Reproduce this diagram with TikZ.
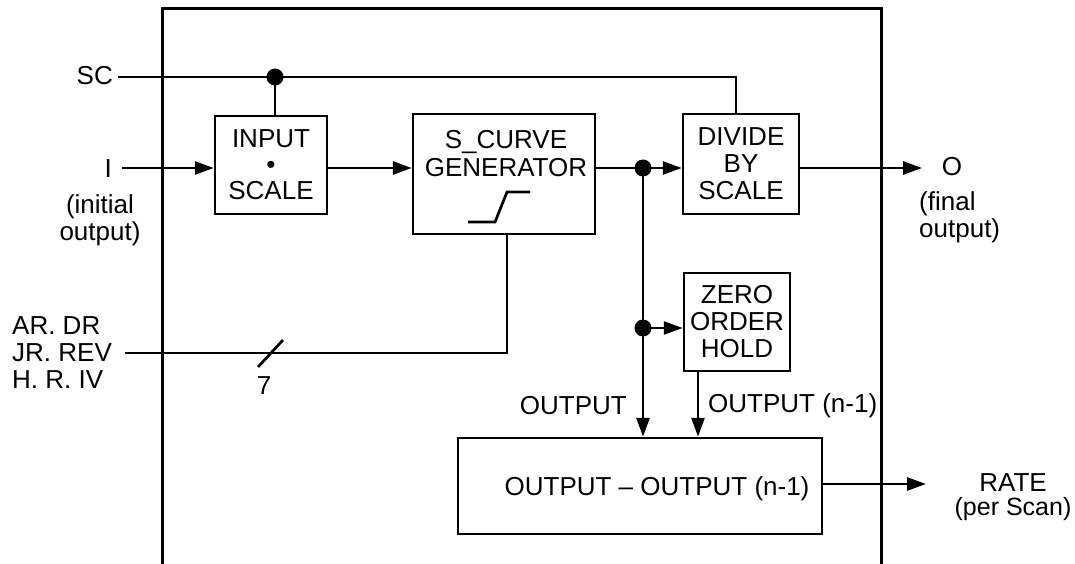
\documentclass[tikz,border=0pt]{standalone}
\usepackage{fontspec}
\setmainfont{Liberation Sans}
\usetikzlibrary{arrows.meta}
\tikzset{
  box/.style={draw, line width=2.5pt, inner sep=0pt, align=center},
  wire/.style={line width=2.7pt},
  sig/.style={wire, -{Triangle[length=19pt,width=13pt]}},
  jdot/.style={circle, fill, inner sep=0pt, minimum size=17pt},
  lbl/.style={inner sep=0pt, align=center},
}
\newcommand{\bigf}{\fontsize{26}{27}\selectfont}
\begin{document}
\begin{tikzpicture}[x=1pt,y=-1pt, font=\bigf]
\useasboundingbox (0,0) rectangle (1075,564);
% frame
\draw[line width=3pt] (162,564) -- (162,9) -- (881,9) -- (881,564);

% boxes
\node[box, minimum width=112pt, minimum height=98pt] (inbox) at (271,165) {INPUT\\[-1pt]\textbullet\\[-1pt]SCALE};
\node[box, minimum width=182pt, minimum height=120pt] (scurve) at (504,174) {};
\node[lbl] (sctext) at (506,154) {S\_CURVE\\[1pt]GENERATOR};
\node[box, minimum width=116pt, minimum height=100pt] (divide) at (741,164) {DIVIDE\\BY\\SCALE};
\node[box, minimum width=106pt, minimum height=98pt] (zoh) at (737,322) {ZERO\\ORDER\\HOLD};
\node[box, minimum width=364pt, minimum height=96pt] (diff) at (640,486) {};
\node[lbl] (difftext) at (657,489) {OUTPUT -- OUTPUT (n-1)};

% S-curve glyph
\draw[wire] (468,222) -- (495,222) -- (507,192) -- (530,192);

% labels outside
\node[lbl, anchor=east] (sc) at (113,76) {SC};
\node[lbl, anchor=east] (iin) at (112,169) {I};
\node[lbl] (initial) at (100,220) {(initial\\output)};
\node[lbl, align=left, anchor=west] (ar) at (12,353) {AR. DR\\JR. REV\\H. R. IV};
\node[lbl] (seven) at (264,386) {7};
\node[lbl] (oout) at (952,167) {O};
\node[lbl, align=left, anchor=west] (final) at (919,217) {(final\\output)};
\node[lbl] (rate) at (1013,497) {RATE\\[-3pt]{\fontsize{25}{26}\selectfont(per Scan)}};
\node[lbl, anchor=east] (outlbl) at (627,406) {OUTPUT};
\node[lbl, anchor=west] (outn1) at (708,406) {OUTPUT (n-1)};

% junction coordinates
\coordinate (j1) at (275,77);
\coordinate (j2) at (643,168);
\coordinate (j3) at (643,328);
\coordinate (scstart) at (118,77);
\coordinate (sccorner) at (736,77);
\coordinate (istart) at (122,168);
\coordinate (arstart) at (125,353);
\coordinate (arcorner) at (507,353);
\coordinate (ofin) at (922,168);
\coordinate (ratetip) at (926,484);
\coordinate (zx) at (698,0);

% SC line
\draw[wire] (scstart) -- (sccorner) -- (divide.north -| sccorner);
\draw[wire] (j1) -- (inbox.north -| j1);
\node[jdot] (d1) at (j1) {};

% main signal path
\draw[sig] (istart) -- (inbox.west |- istart);
\draw[sig] (inbox.east |- istart) -- (scurve.west |- istart);
\draw[sig] (scurve.east |- j2) -- (divide.west |- j2);
\draw[sig] (divide.east |- j2) -- (ofin);
\node[jdot] (d2) at (j2) {};

% AR/JR/HR bus
\draw[wire] (arstart) -- (arcorner) -- (scurve.south -| arcorner);
\draw[wire] (258,367) -- (283,340);

% output branches
\draw[sig] (j2) -- (diff.north -| j2);
\draw[sig] (j3) -- (zoh.west |- j3);
\node[jdot] (d3) at (j3) {};
\draw[sig] (zoh.south -| zx) -- (diff.north -| zx);

% rate
\draw[sig] (diff.east |- ratetip) -- (ratetip);
\end{tikzpicture}
\end{document}
